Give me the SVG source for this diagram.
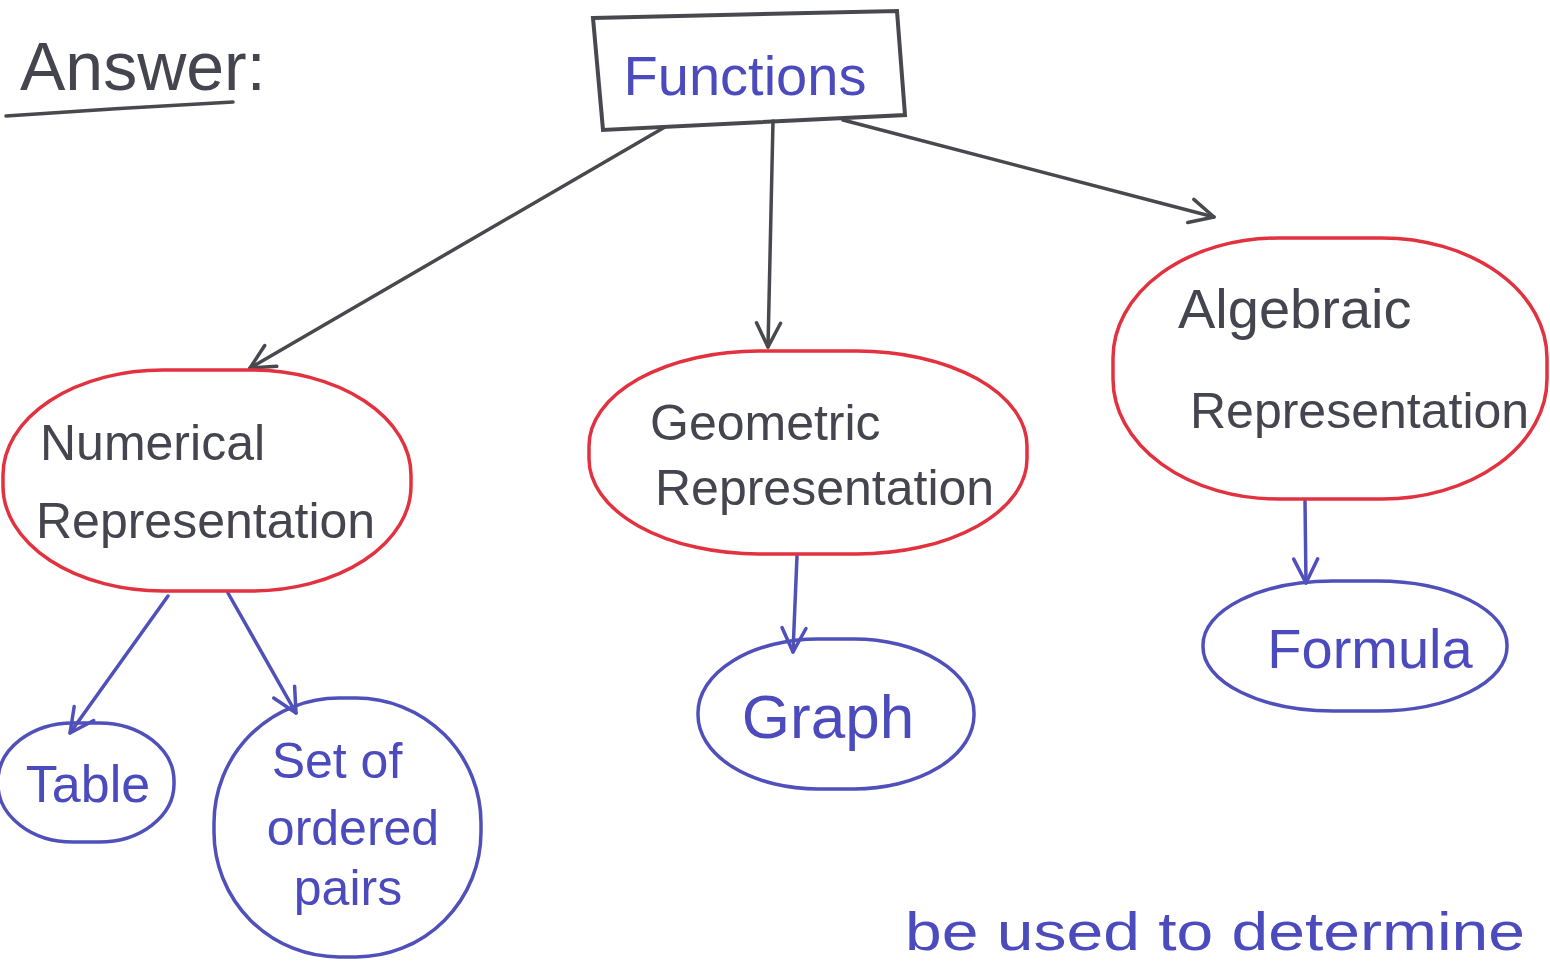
<svg xmlns="http://www.w3.org/2000/svg" width="1550" height="962" viewBox="0 0 1550 962">
<defs>
<style>
.blue{fill:#4b4bbd;font-family:"Liberation Sans",Arial,sans-serif;}
.dark{fill:#45454f;font-family:"Liberation Sans",Arial,sans-serif;}
.red{fill:none;stroke:#e2323f;stroke-width:3.5;}
.bl{fill:none;stroke:#5050bb;stroke-width:3.5;}
.gc{fill:none;stroke:#48484f;stroke-width:3.5;stroke-linecap:round;}
.bc{fill:none;stroke:#5050bb;stroke-width:3.5;stroke-linecap:round;}
</style>
<marker id="ag" viewBox="0 0 30 30" refX="27" refY="15" markerWidth="30" markerHeight="30" markerUnits="userSpaceOnUse" orient="auto"><path d="M3,3 L27,15 L3,27" fill="none" stroke="#48484f" stroke-width="3.5" stroke-linecap="round" stroke-linejoin="round"/></marker>
<marker id="ab" viewBox="0 0 30 30" refX="27" refY="15" markerWidth="30" markerHeight="30" markerUnits="userSpaceOnUse" orient="auto"><path d="M3,3 L27,15 L3,27" fill="none" stroke="#5050bb" stroke-width="3.5" stroke-linecap="round" stroke-linejoin="round"/></marker>
</defs>
<rect width="1550" height="962" fill="#ffffff"/>
<g id="answer">
<text class="dark" x="20" y="90" font-size="68">Answer:</text>
<path d="M6,116 Q120,108 233,102" class="gc"/>
</g>
<g id="functions">
<path d="M593,18 L897,11 L905,115 L603,130 Z" fill="none" stroke="#48484f" stroke-width="4"/>
<text class="blue" x="745" y="95" font-size="56" text-anchor="middle">Functions</text>
</g>
<g id="connectors">
<path d="M665,127 L250,368" class="gc" marker-end="url(#ag)"/>
<path d="M773,121 L768,347" class="gc" marker-end="url(#ag)"/>
<path d="M843,120 L1214,217" class="gc" marker-end="url(#ag)"/>
<path d="M168,596 L70,733" class="bc" marker-end="url(#ab)"/>
<path d="M228,593 L296,713" class="bc" marker-end="url(#ab)"/>
<path d="M797,556 L793,652" class="bc" marker-end="url(#ab)"/>
<path d="M1305,501 L1306,583" class="bc" marker-end="url(#ab)"/>
</g>
<g id="numerical">
<rect x="3" y="370" width="408" height="221" rx="160" ry="105" class="red"/>
<text class="dark" x="40" y="460" font-size="50">Numerical</text>
<text class="dark" x="36" y="538" font-size="50">Representation</text>
</g>
<g id="geometric">
<rect x="589" y="351" width="438" height="203" rx="170" ry="95" class="red"/>
<text class="dark" x="650" y="440" font-size="50">Geometric</text>
<text class="dark" x="655" y="505" font-size="50">Representation</text>
</g>
<g id="algebraic">
<rect x="1113" y="238" width="434" height="261" rx="165" ry="120" class="red"/>
<text class="dark" x="1178" y="328" font-size="56">Algebraic</text>
<text class="dark" x="1190" y="428" font-size="50">Representation</text>
</g>
<g id="table">
<rect x="-2" y="723" width="176" height="119" rx="75" ry="58" class="bl"/>
<text class="blue" x="88" y="802" font-size="52" text-anchor="middle">Table</text>
</g>
<g id="pairs">
<rect x="214" y="698" width="267" height="259" rx="125" ry="125" class="bl"/>
<text class="blue" x="337" y="778" font-size="50" text-anchor="middle">Set of</text>
<text class="blue" x="353" y="845" font-size="50" text-anchor="middle">ordered</text>
<text class="blue" x="348" y="905" font-size="50" text-anchor="middle">pairs</text>
</g>
<g id="graph">
<rect x="698" y="639" width="276" height="150" rx="120" ry="74" class="bl"/>
<text class="blue" x="828" y="738" font-size="62" text-anchor="middle">Graph</text>
</g>
<g id="formula">
<rect x="1203" y="581" width="304" height="130" rx="130" ry="64" class="bl"/>
<text class="blue" x="1370" y="668" font-size="56" text-anchor="middle">Formula</text>
</g>
<g id="note">
<text class="blue" x="905" y="950" font-size="54" textLength="620" lengthAdjust="spacingAndGlyphs">be used to determine</text>
</g>
</svg>
